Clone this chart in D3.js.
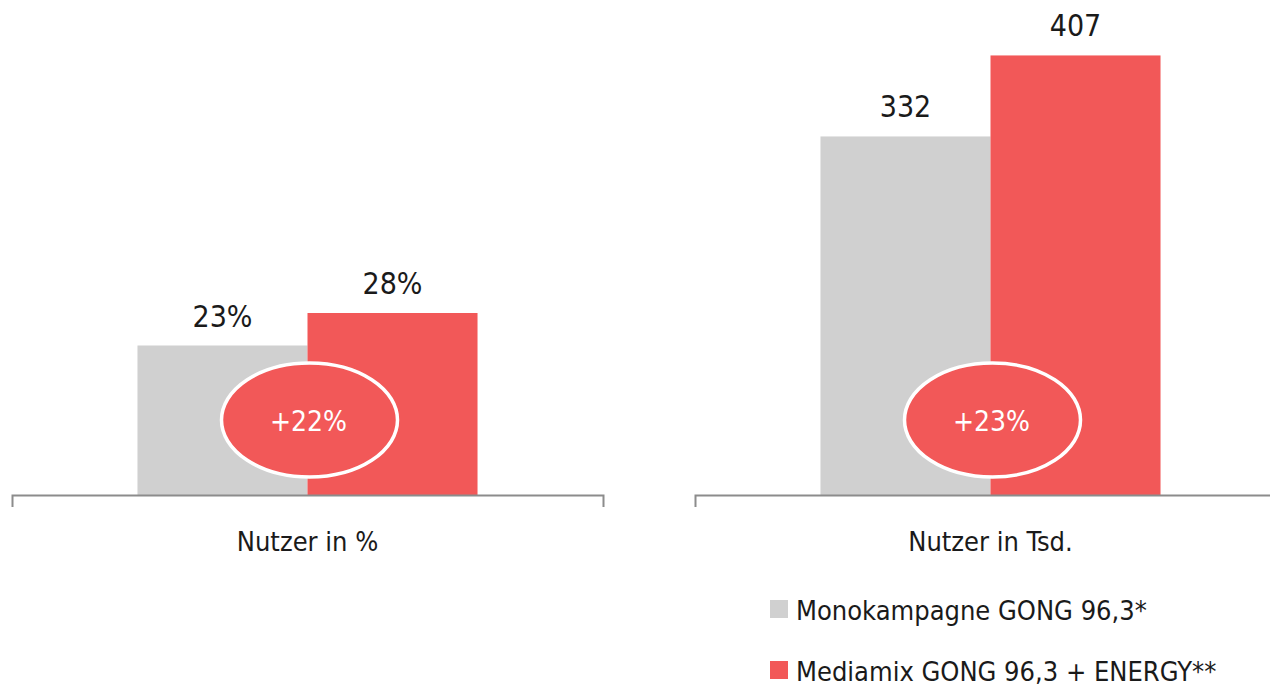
<!DOCTYPE html>
<html lang="de">
<head>
<meta charset="utf-8"/>
<title>Nutzer</title>
<script src="https://d3js.org/d3.v7.min.js"></script>
<style>
  body { margin: 0; background: #fff; }
  svg text { font-family: "Liberation Sans Narrow", "DejaVu Sans Condensed", "Roboto", sans-serif; }
  .valLabel { font-size: 30px; fill: #1a1a1a; }
  .catLabel { font-size: 27px; fill: #1a1a1a; }
  .diffLabel { font-size: 28px; fill: #fff; }
  .legText { font-size: 27px; fill: #1a1a1a; }
</style>
</head>
<body>
<div id="chart"></div>
<script>

// data
var series = ["Monokampagne GONG 96,3*", "Mediamix GONG 96,3 + ENERGY**"];
var colors = ["#d0d0d0", "#f25858"];
var pctValues = [23, 28];
var tsdValues = [332, 407];
var diffLabels = ["+22%", "+23%"];
var categories = ["Nutzer in %", "Nutzer in Tsd."];

var W = 1270, H = 688, baseY = 495;

var svg = d3.select("#chart").append("svg").attr("width", W).attr("height", H);

var panels = [
  {cat: categories[0], values: pctValues, fmt: function(v){return v + "%";}, diff: diffLabels[0],
   xr: [12, 603], y: d3.scaleLinear().domain([0, 30]).range([baseY, baseY - 195])},
  {cat: categories[1], values: tsdValues, fmt: function(v){return v;}, diff: diffLabels[1],
   xr: [695, 1286], y: d3.scaleLinear().domain([0, 450]).range([baseY, baseY - 486])}
];

panels.forEach(function(p) {
  var x0 = d3.scaleBand().domain([p.cat]).range(p.xr).paddingOuter(0.369).paddingInner(0);
  var x1 = d3.scaleBand().domain(series).range([0, x0.bandwidth()]);

  var g = svg.append("g");

  g.selectAll("rect.bar")
    .data(p.values)
    .enter().append("rect")
    .attr("class", "bar")
    .attr("x", function(d, i) { return x0(p.cat) + x1(series[i]); })
    .attr("width", x1.bandwidth())
    .attr("y", function(d) { return p.y(d); })
    .attr("height", function(d) { return baseY - p.y(d); })
    .style("fill", function(d, i) { return colors[i]; });

  g.selectAll("text.valLabel")
    .data(p.values)
    .enter().append("text")
    .attr("class", "valLabel")
    .attr("text-anchor", "middle")
    .attr("x", function(d, i) { return x0(p.cat) + x1(series[i]) + x1.bandwidth() / 2; })
    .attr("y", function(d) { return p.y(d) - 19; })
    .text(function(d) { return p.fmt(d); });

  // axis
  var axis = g.append("g")
    .attr("transform", "translate(0," + baseY + ")")
    .call(d3.axisBottom(x0).tickSizeInner(0).tickSizeOuter(12).tickPadding(37));
  axis.select(".domain").attr("stroke", "#8c8c8c").attr("stroke-width", 2);
  axis.selectAll(".tick text").attr("class", "catLabel").attr("font-family", null).attr("font-size", null);

  // difference bubble
  var cx = x0(p.cat) + x0.bandwidth() / 2;
  g.append("ellipse")
    .attr("cx", cx + 2)
    .attr("cy", baseY - 75)
    .attr("rx", 88)
    .attr("ry", 57)
    .style("fill", colors[1])
    .style("stroke", "#fff")
    .style("stroke-width", 3.5);
  g.append("text")
    .attr("class", "diffLabel")
    .attr("text-anchor", "middle")
    .attr("x", cx + 1)
    .attr("y", baseY - 64)
    .text(p.diff);
});

// legend
var leg = svg.append("g").attr("transform", "translate(770,600)");
leg.selectAll("rect")
  .data(series)
  .enter().append("rect")
  .attr("x", 0)
  .attr("y", function(d, i) { return i * 61; })
  .attr("width", 18)
  .attr("height", 18)
  .style("fill", function(d, i) { return colors[i]; });
leg.selectAll("text")
  .data(series)
  .enter().append("text")
  .attr("class", "legText")
  .attr("x", 26)
  .attr("y", function(d, i) { return i * 61 + 20; })
  .text(function(d) { return d; });

</script>
</body>
</html>
